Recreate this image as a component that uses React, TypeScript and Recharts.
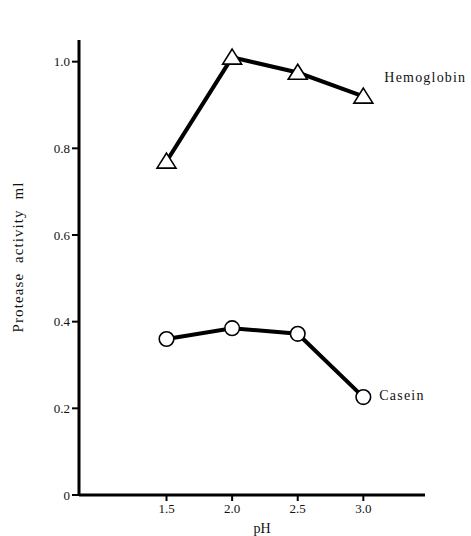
import React from 'react';
import { LineChart, Line, XAxis, YAxis, Label } from 'recharts';

const phValues = [1.5, 2.0, 2.5, 3.0];
const hemoglobin = [0.77, 1.01, 0.975, 0.92];
const casein = [0.36, 0.385, 0.372, 0.226];
const seriesNames = ['Hemoglobin', 'Casein'];
const xTicks = [1.5, 2.0, 2.5, 3.0];
const yTicks = [0, 0.2, 0.4, 0.6, 0.8, 1.0];
const xLabel = 'pH';
const yLabel = 'Protease\u00a0\u00a0activity\u00a0\u00a0ml';

const data = phValues.map((ph, i) => ({ ph, hemoglobin: hemoglobin[i], casein: casein[i] }));

const FONT = '"Liberation Serif", "DejaVu Serif", serif';
const lastIndex = phValues.length - 1;

const TriangleDot = (props: any) => {
  const { cx, cy, index } = props;
  if (cx == null || cy == null) return null;
  const w = 19;
  const h = 15;
  const top = cy - h * 0.55;
  const bot = cy + h * 0.45;
  return (
    <g key={`tri-${index}`}>
      <path
        d={`M${cx},${top} L${cx + w / 2},${bot} L${cx - w / 2},${bot} Z`}
        fill="#fff"
        stroke="#000"
        strokeWidth={1.6}
        strokeLinejoin="miter"
      />
      {index === lastIndex && (
        <text x={cx + 21} y={cy - 14} fontFamily={FONT} fontSize={14} letterSpacing={1.2} fill="#111">
          {seriesNames[0]}
        </text>
      )}
    </g>
  );
};

const CircleDot = (props: any) => {
  const { cx, cy, index } = props;
  if (cx == null || cy == null) return null;
  return (
    <g key={`cir-${index}`}>
      <circle cx={cx} cy={cy} r={7.3} fill="#fff" stroke="#000" strokeWidth={1.6} />
      {index === lastIndex && (
        <text x={cx + 16} y={cy + 3} fontFamily={FONT} fontSize={14} letterSpacing={1.2} fill="#111">
          {seriesNames[1]}
        </text>
      )}
    </g>
  );
};

export default function App() {
  return (
    <div style={{ position: 'absolute', left: 0, top: 0, background: '#fff' }}>
      <LineChart
        width={471}
        height={536}
        data={data}
        margin={{ top: 40, right: 46, bottom: 0, left: 0 }}
      >
        <XAxis
          dataKey="ph"
          type="number"
          domain={[0.833, 3.47]}
          ticks={xTicks}
          height={41}
          tickSize={6}
          tickMargin={3}
          axisLine={{ stroke: '#000', strokeWidth: 3 }}
          tickLine={{ stroke: '#000', strokeWidth: 2 }}
          tick={{ fontFamily: FONT, fontSize: 13, fill: '#111' }}
          tickFormatter={(v: number) => v.toFixed(1)}
        >
          <Label
            content={() => (
              <text x={262} y={533} textAnchor="middle" fontFamily={FONT} fontSize={14} fill="#111">
                {xLabel}
              </text>
            )}
          />
        </XAxis>
        <YAxis
          type="number"
          domain={[0, 1.05]}
          ticks={yTicks}
          width={79}
          tickSize={7}
          tickMargin={2}
          axisLine={{ stroke: '#000', strokeWidth: 3 }}
          tickLine={{ stroke: '#000', strokeWidth: 2 }}
          tick={{ fontFamily: FONT, fontSize: 13, fill: '#111' }}
          tickFormatter={(v: number) => (v === 0 ? '0' : v.toFixed(1))}
        >
          <Label
            content={() => (
              <text
                x={23}
                y={257}
                transform="rotate(-90 23 257)"
                textAnchor="middle"
                fontFamily={FONT}
                fontSize={15}
                letterSpacing={1.1}
                fill="#111"
              >
                {yLabel}
              </text>
            )}
          />
        </YAxis>
        <Line
          dataKey="hemoglobin"
          stroke="#000"
          strokeWidth={4}
          dot={TriangleDot}
          activeDot={false}
          isAnimationActive={false}
        />
        <Line
          dataKey="casein"
          stroke="#000"
          strokeWidth={4}
          dot={CircleDot}
          activeDot={false}
          isAnimationActive={false}
        />
      </LineChart>
    </div>
  );
}
